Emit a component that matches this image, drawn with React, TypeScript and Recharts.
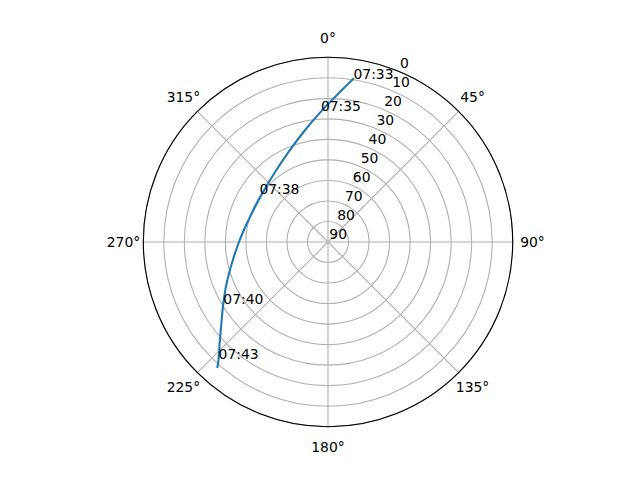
import React from 'react';
import { RadarChart, PolarGrid, PolarAngleAxis, PolarRadiusAxis, Radar } from 'recharts';

// Satellite pass track: azimuth (deg, clockwise from north) and elevation (deg)
const trackAz = [8.8, 3.5, 357.3, 347.7, 336.1, 322.0, 306.0, 296.4, 287.0, 278.1, 270.0, 260.7, 252.6, 245.6, 239.4, 233.0, 227.5, 223.0, 221.5];
const trackEl = [9.6, 18.2, 25.9, 34.9, 42.2, 47.5, 50.2, 50.6, 50.0, 48.6, 46.6, 43.4, 39.5, 35.2, 30.7, 25.0, 18.5, 11.8, 8.7];

// Time annotations
const labelTimes = ['07:33', '07:35', '07:38', '07:40', '07:43'];
const labelAz = [8.9, 356.9, 305.0, 239.3, 223.0];
const labelEl = [9.8, 25.9, 49.2, 30.7, 11.8];

const angleTicks = [0, 45, 90, 135, 180, 225, 270, 315];
const elevationTicks = [90, 80, 70, 60, 50, 40, 30, 20, 10, 0];

const FONT = "'DejaVu Sans', sans-serif";
const FS = 13.9;

const data = [
  ...trackAz.map((az, i) => ({ az, zen: 90 - trackEl[i] })),
  ...labelAz.map((az, i) => ({ az, lzen: 90 - labelEl[i], time: labelTimes[i] })),
];
const zenithTicks = elevationTicks.map((e) => 90 - e);

const AngleTick = (props: any) => (
  <text
    x={props.x}
    y={props.y}
    textAnchor="middle"
    dominantBaseline="central"
    fontFamily={FONT}
    fontSize={FS}
    fill="#000"
  >
    {`${props.payload.value}°`}
  </text>
);

const RadiusTick = (props: any) => (
  <text x={props.x + 1.3} y={props.y - 3} textAnchor="start" fontFamily={FONT} fontSize={FS} fill="#000">
    {`${Math.round(90 - props.payload.value)}`}
  </text>
);

const valid = (p: any) => p && p.value != null && Number.isFinite(p.x) && Number.isFinite(p.y);

const TrackShape = (props: any) => {
  const pts: any[] = (props.points || []).filter(valid);
  if (pts.length < 2) return null;
  // Catmull-Rom spline through the points
  let d = `M${pts[0].x},${pts[0].y}`;
  for (let i = 0; i < pts.length - 1; i++) {
    const p0 = pts[i - 1] || pts[i];
    const p1 = pts[i];
    const p2 = pts[i + 1];
    const p3 = pts[i + 2] || p2;
    const c1x = p1.x + (p2.x - p0.x) / 6;
    const c1y = p1.y + (p2.y - p0.y) / 6;
    const c2x = p2.x - (p3.x - p1.x) / 6;
    const c2y = p2.y - (p3.y - p1.y) / 6;
    d += ` C${c1x},${c1y} ${c2x},${c2y} ${p2.x},${p2.y}`;
  }
  return <path d={d} fill="none" stroke="#1f77b4" strokeWidth={2.08} strokeLinejoin="round" strokeLinecap="square" />;
};

const LabelShape = (props: any) => {
  const pts: any[] = (props.points || []).filter(valid);
  return (
    <g>
      {pts.map((p, i) => (
        <text key={i} x={p.x} y={p.y} textAnchor="start" fontFamily={FONT} fontSize={FS} fill="#000">
          {p.payload.time}
        </text>
      ))}
    </g>
  );
};

export default function App() {
  return (
    <div style={{ position: 'absolute', left: 0, top: 0, width: 640, height: 480, background: '#fff' }}>
      <RadarChart
        width={640}
        height={480}
        data={data}
        cx={328}
        cy={242}
        outerRadius={184.7}
        innerRadius={0}
        startAngle={90}
        endAngle={-270}
        margin={{ top: 0, right: 0, bottom: 0, left: 0 }}
      >
        <PolarGrid gridType="circle" stroke="#b0b0b0" strokeWidth={1.1} />
        <PolarGrid gridType="circle" stroke="#000" strokeWidth={1.1} radialLines={false} polarRadius={[184.7]} polarAngles={[]} />
        <PolarAngleAxis
          dataKey="az"
          type="number"
          domain={[0, 360]}
          ticks={angleTicks}
          axisLine={false}
          tickLine={false}
          tickSize={19.8}
          tick={<AngleTick />}
        />
        <PolarRadiusAxis
          angle={67.5}
          type="number"
          domain={[0, 90]}
          ticks={zenithTicks}
          axisLine={false}
          tickLine={false}
          tick={<RadiusTick />}
        />
        <Radar dataKey="zen" isAnimationActive={false} shape={<TrackShape />} dot={false} />
        <Radar dataKey="lzen" isAnimationActive={false} shape={<LabelShape />} dot={false} />
      </RadarChart>
    </div>
  );
}
